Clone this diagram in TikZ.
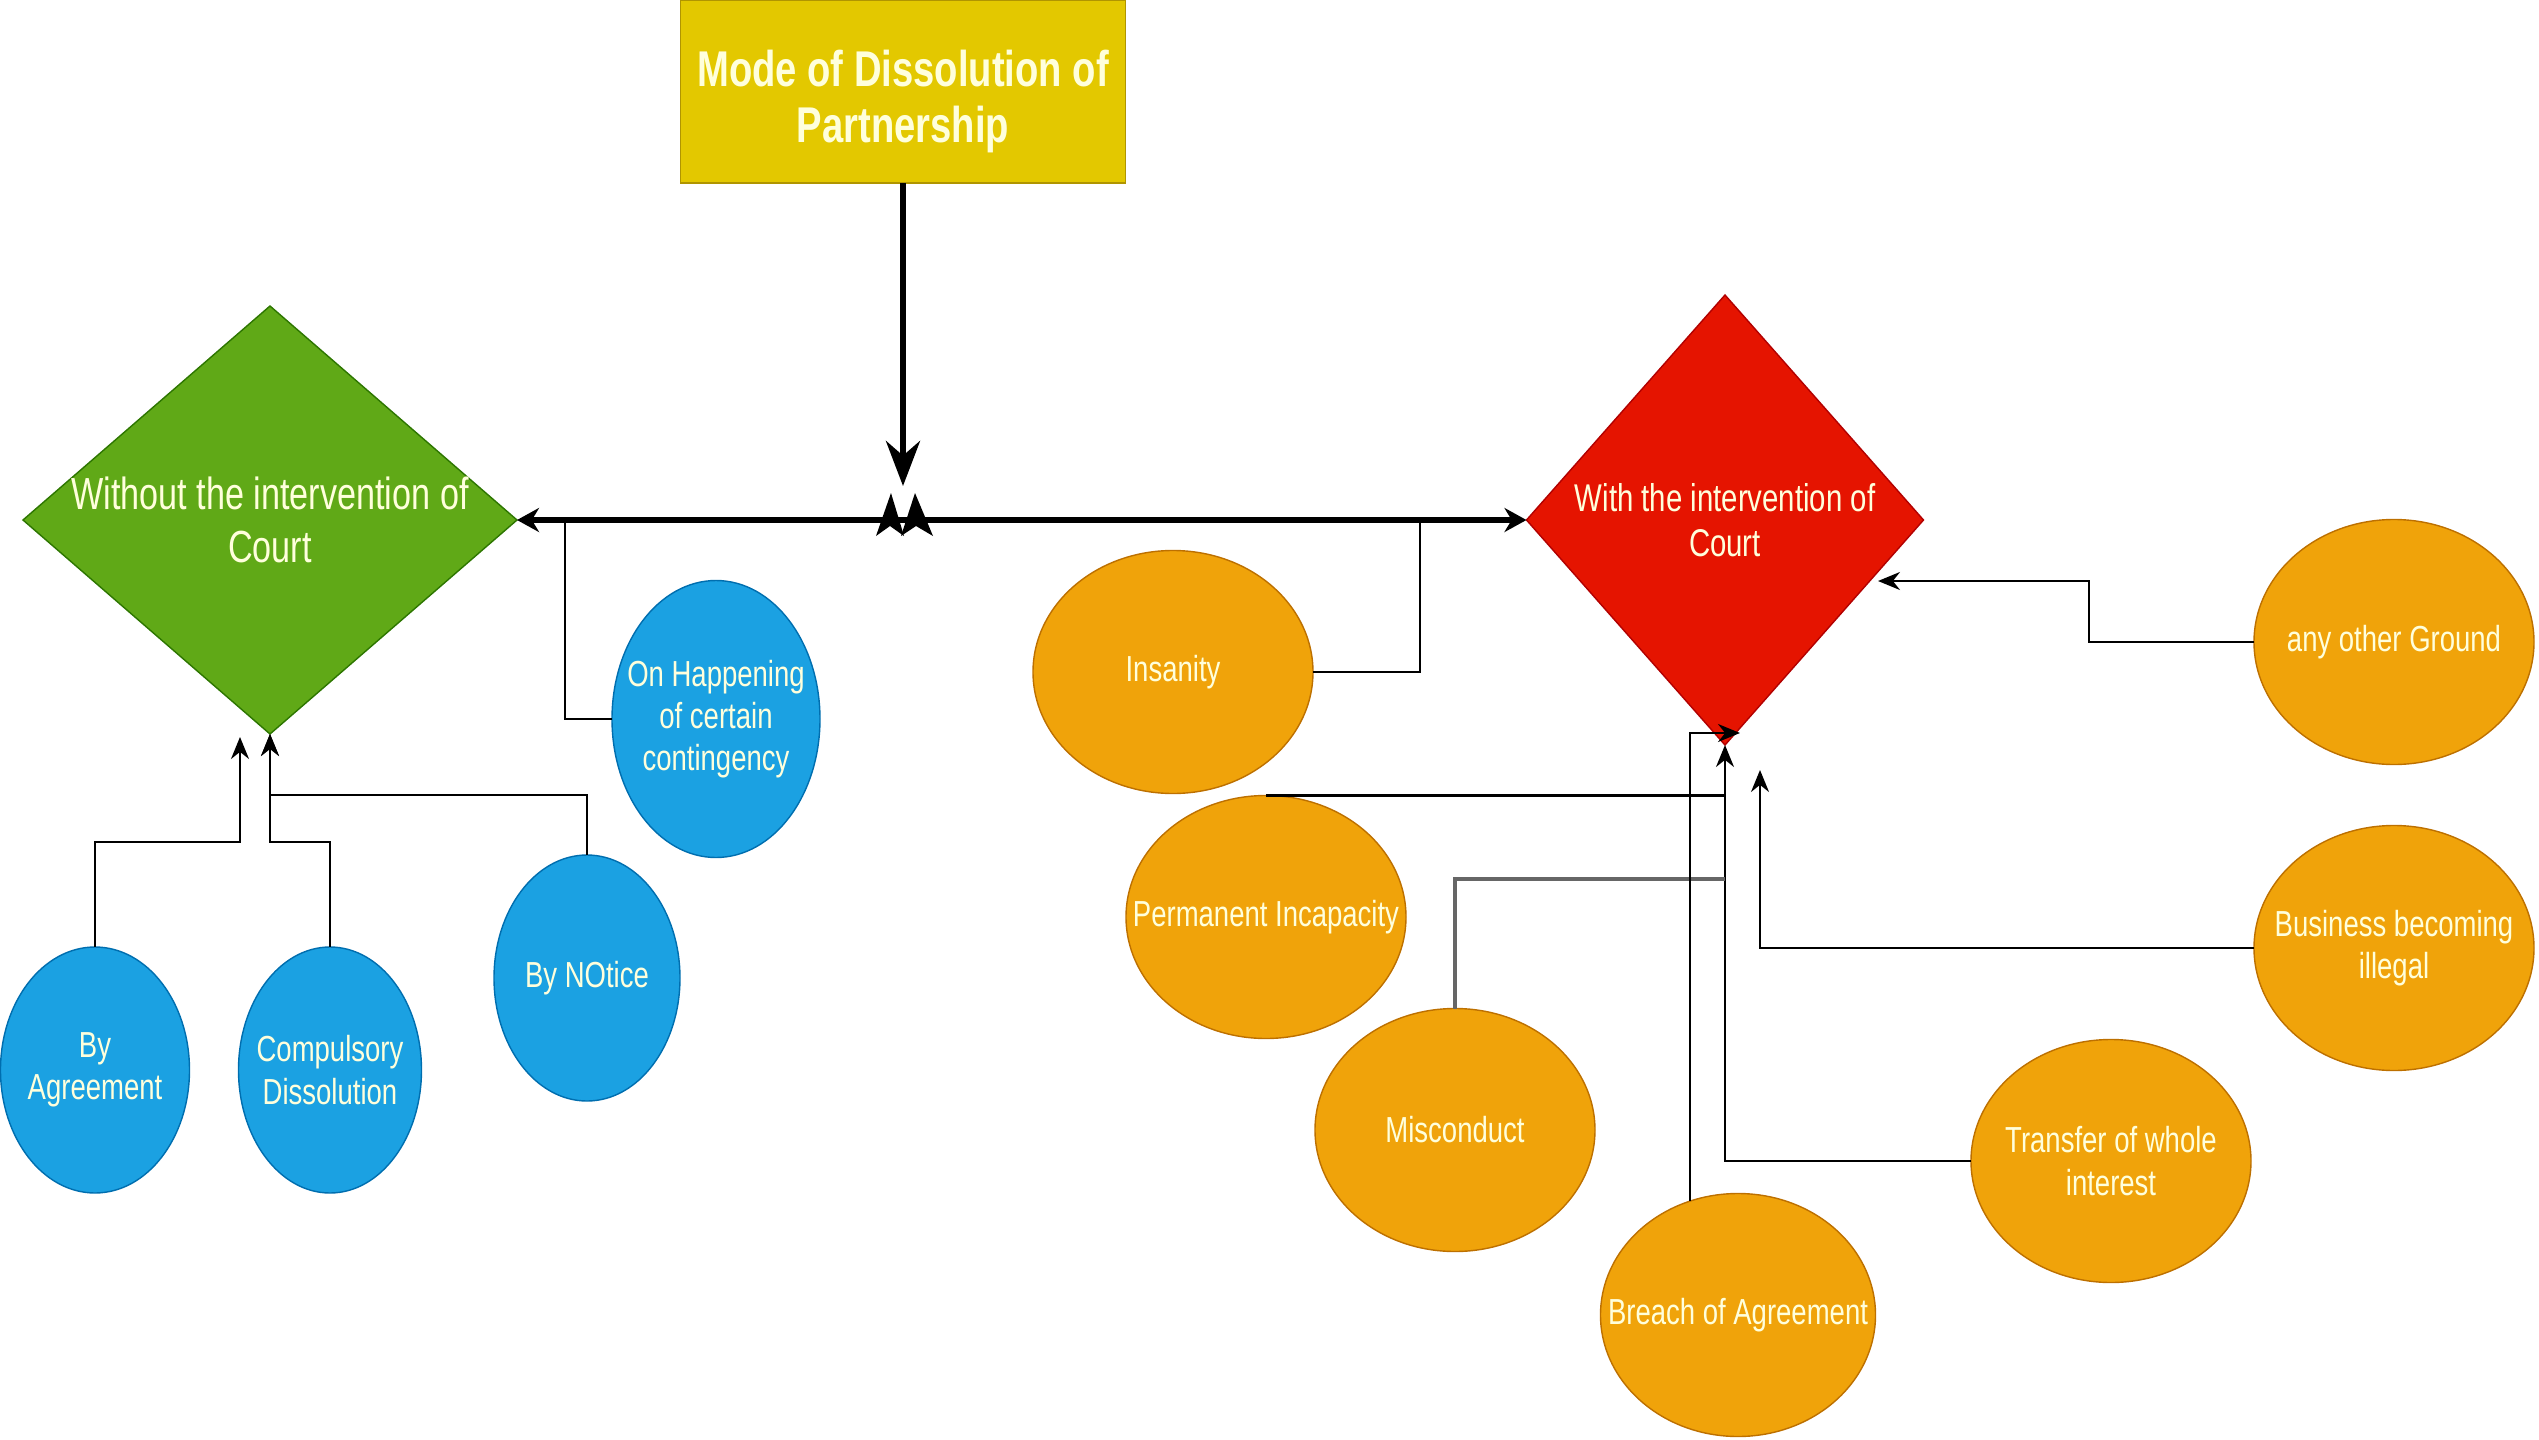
\documentclass[tikz,border=0pt]{standalone}
\usepackage{fontspec}
\setmainfont[FakeStretch=0.76]{Liberation Sans}
\usetikzlibrary{shapes.geometric,arrows.meta}
\definecolor{cream}{HTML}{FFFFDC}
\definecolor{titlefill}{HTML}{E3C800}
\definecolor{titleline}{HTML}{B09500}
\definecolor{greenfill}{HTML}{60A917}
\definecolor{greenline}{HTML}{2D7600}
\definecolor{redfill}{HTML}{E51400}
\definecolor{redline}{HTML}{B20000}
\definecolor{bluefill}{HTML}{1BA1E2}
\definecolor{blueline}{HTML}{006EAF}
\definecolor{orangefill}{HTML}{F0A30A}
\definecolor{orangeline}{HTML}{BD7000}

\begin{document}
\begin{tikzpicture}[x=1cm,y=1cm,
    every node/.style={inner sep=0pt,outer sep=0pt},
    ovaltext/.style={text=cream,align=center,font=\fontsize{10.3}{12}\selectfont},
    blueball/.style={ellipse,fill=bluefill,draw=blueline,minimum width=1.86cm,minimum height=2.46cm},
    orangeball/.style={ellipse,fill=orangefill,draw=orangeline,minimum width=2.8cm,minimum height=2.43cm},
    link/.style={line width=0.6pt},
    misline/.style={line width=1pt,black!60},
    tip/.style={-{Stealth[length=2.2mm,width=1.8mm]}},
    bigline/.style={line width=1.7pt}]
  \useasboundingbox (0,0) rectangle (25.39,-14.40);

  \node[fill=titlefill,draw=titleline,minimum width=4.45cm,minimum height=1.83cm,
        label={[yshift=-1mm,text=cream,align=center,font=\bfseries\fontsize{14.3}{16.2}\selectfont]center:{Mode of Dissolution of\\Partnership}}]
        (title) at (9.03,-0.915) {};

  \node[diamond,fill=greenfill,draw=greenline,minimum width=4.94cm,minimum height=4.28cm,
        label={[text=cream,align=center,font=\fontsize{12.8}{15}\selectfont]center:{Without the intervention of\\Court}}]
        (nocourt) at (2.70,-5.20) {};
  \node[diamond,fill=redfill,draw=redline,minimum width=3.97cm,minimum height=4.50cm,
        label={[text=cream,align=center,font=\fontsize{11}{12.8}\selectfont]center:{With the intervention of\\Court}}]
        (withcourt) at (17.25,-5.20) {};

  \node[blueball,minimum width=2.08cm,minimum height=2.77cm,
        label={[ovaltext]center:{On Happening\\of certain\\contingency}}] (happen) at (7.16,-7.19) {};
  \node[blueball,label={[ovaltext]center:By NOtice}] (notice) at (5.87,-9.78) {};
  \node[blueball,minimum width=1.89cm,label={[ovaltext]center:{By\\Agreement}}] (agree) at (0.95,-10.70) {};
  \node[blueball,minimum width=1.83cm,label={[ovaltext]center:{Compulsory\\Dissolution}}] (comp) at (3.30,-10.70) {};

  \node[orangeball,label={[ovaltext]center:Insanity}] (insan) at (11.73,-6.72) {};
  \node[orangeball,label={[ovaltext]center:Permanent Incapacity}] (perm) at (12.66,-9.17) {};
  \node[orangeball,label={[ovaltext]center:Misconduct}] (misc) at (14.55,-11.30) {};
  \node[orangeball,minimum width=2.75cm,label={[ovaltext]center:Breach of Agreement}] (breach) at (17.38,-13.15) {};
  \node[orangeball,label={[ovaltext]center:{Transfer of whole\\interest}}] (transfer) at (21.11,-11.61) {};
  \node[orangeball,minimum height=2.45cm,label={[ovaltext]center:{Business becoming\\illegal}}] (business) at (23.94,-9.48) {};
  \node[orangeball,minimum height=2.45cm,label={[ovaltext]center:any other Ground}] (other) at (23.94,-6.42) {};

  \coordinate (drop) at (9.03,-4.86);
  \coordinate (hub) at (9.03,-5.20);
  \coordinate (joinL) at (5.65,-5.20);
  \coordinate (joinR) at (14.20,-5.20);
  \coordinate (agreeturn) at (2.40,-8.42);
  \coordinate (agreetip) at (2.40,-7.37);
  \coordinate (compturn) at (2.70,-8.42);
  \coordinate (noticeturn) at (2.70,-7.95);
  \coordinate (otherbend) at (20.89,-5.81);
  \coordinate (othertip) at (18.78,-5.81);
  \coordinate (biztip) at (17.60,-7.70);
  \coordinate (miscjoin) at (17.25,-8.79);
  \coordinate (breachtip) at (17.40,-7.33);

  \draw[bigline,-{Stealth[length=4.5mm,width=3.4mm]}] (title) -- (drop);
  \draw[bigline,-{Stealth[length=2.2mm,width=2.4mm]}] (hub) -- (nocourt);
  \draw[bigline,-{Stealth[length=2.2mm,width=2.4mm]}] (hub) -- (withcourt);
  \fill (hub) ++(-0.27,-0.16) -- ++(0.15,0.43) -- ++(0.13,-0.43) -- ++(-0.14,0.10) -- cycle;
  \fill (hub) ++(-0.02,-0.16) -- ++(0.14,0.43) -- ++(0.18,-0.43) -- ++(-0.17,0.10) -- cycle;

  \draw[link] (happen.west) -| (joinL);
  \draw[link,tip] (agree.north) |- (agreeturn) -- (agreetip);
  \draw[link,tip] (comp.north) |- (compturn) -- (nocourt.south);
  \draw[link,tip] (notice.north) |- (noticeturn) -- (nocourt.south);

  \draw[link] (insan.east) -| (joinR);
  \draw[link,tip] (other.west) -| (otherbend) -- (othertip);
  \draw[link,tip] (business.west) -| (biztip);
  \draw[link,tip] (transfer.west) -| (withcourt.south);
  \draw[link] (perm.north) -- (perm.north -| withcourt.south);
  \draw[misline] (misc.north) |- (miscjoin);
  \draw[link,tip] (breach.113) |- (breachtip);
\end{tikzpicture}
\end{document}
